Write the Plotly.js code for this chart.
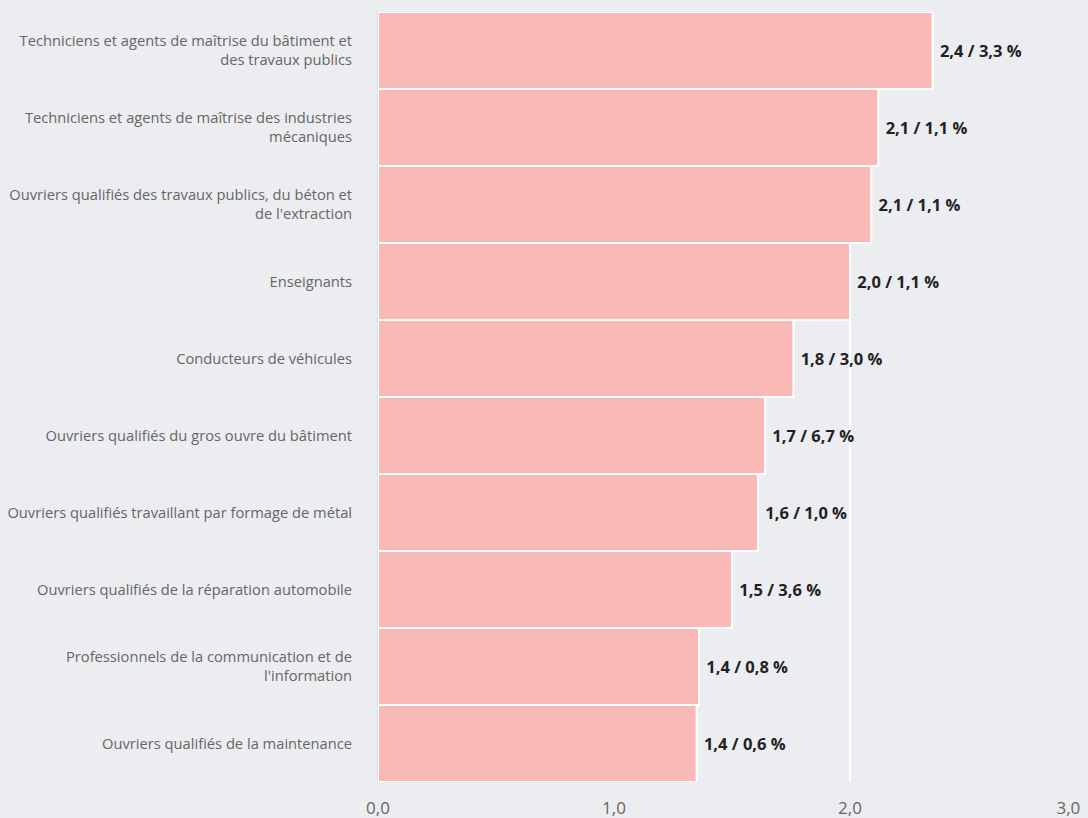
<!DOCTYPE html>
<html><head><meta charset="utf-8">
<script src="https://cdn.plot.ly/plotly-3.0.1.min.js"></script>
<style>html,body{margin:0;padding:0;background:#ecedf0;}#chart{width:1088px;height:818px;}</style>
</head><body><div id="chart"></div>
<script>
const categories = [
  "Techniciens et agents de maîtrise du bâtiment et<br>des travaux publics",
  "Techniciens et agents de maîtrise des industries<br>mécaniques",
  "Ouvriers qualifiés des travaux publics, du béton et<br>de l'extraction",
  "Enseignants",
  "Conducteurs de véhicules",
  "Ouvriers qualifiés du gros ouvre du bâtiment",
  "Ouvriers qualifiés travaillant par formage de métal",
  "Ouvriers qualifiés de la réparation automobile",
  "Professionnels de la communication et de<br>l'information",
  "Ouvriers qualifiés de la maintenance"
];
const values = [2.35, 2.12, 2.09, 2.00, 1.76, 1.64, 1.61, 1.50, 1.36, 1.35];
const valueLabels = ["2,4 / 3,3 %", "2,1 / 1,1 %", "2,1 / 1,1 %", "2,0 / 1,1 %", "1,8 / 3,0 %",
  "1,7 / 6,7 %", "1,6 / 1,0 %", "1,5 / 3,6 %", "1,4 / 0,8 %", "1,4 / 0,6 %"];
const tickVals = [0, 1, 2, 3];
const tickText = ["0,0", "1,0", "2,0", "3,0\u00a0\u00a0\u00a0\u00a0\u00a0\u00a0\u00a0\u00a0"];

const trace = {
  type: 'bar', orientation: 'h',
  y: categories, x: values,
  text: valueLabels.map(t => '<b>\u00a0' + t + '</b>'),
  textposition: 'outside',
  textfont: {family: 'Open Sans, sans-serif', size: 16.5, color: '#222'},
  cliponaxis: false,
  marker: {color: '#f9bab7', line: {color: '#ffffff', width: 2}},
  hoverinfo: 'none'
};
const layout = {
  width: 1088, height: 818,
  margin: {l: 378, r: 1, t: 12, b: 36, pad: 0},
  paper_bgcolor: '#ecedf0', plot_bgcolor: '#ecedf0',
  bargap: 0,
  showlegend: false,
  font: {family: 'Open Sans, sans-serif'},
  xaxis: {
    range: [0, 3.004], tickvals: tickVals, ticktext: tickText,
    showgrid: true, gridcolor: '#ffffff', gridwidth: 2, zeroline: false,
    ticks: '', ticklabelstandoff: 14, ticklabeloverflow: 'allow',
    tickfont: {family: 'Open Sans, sans-serif', size: 17, color: '#666'},
    fixedrange: true
  },
  yaxis: {
    autorange: 'reversed', showgrid: false, zeroline: false,
    showline: true, linecolor: '#d9dee8', linewidth: 1,
    ticks: '', ticklabelstandoff: 22,
    tickfont: {family: 'Open Sans, sans-serif', size: 14.7, color: '#666'},
    fixedrange: true
  }
};
Plotly.newPlot('chart', [trace], layout, {displayModeBar: false, staticPlot: true});
</script></body></html>
